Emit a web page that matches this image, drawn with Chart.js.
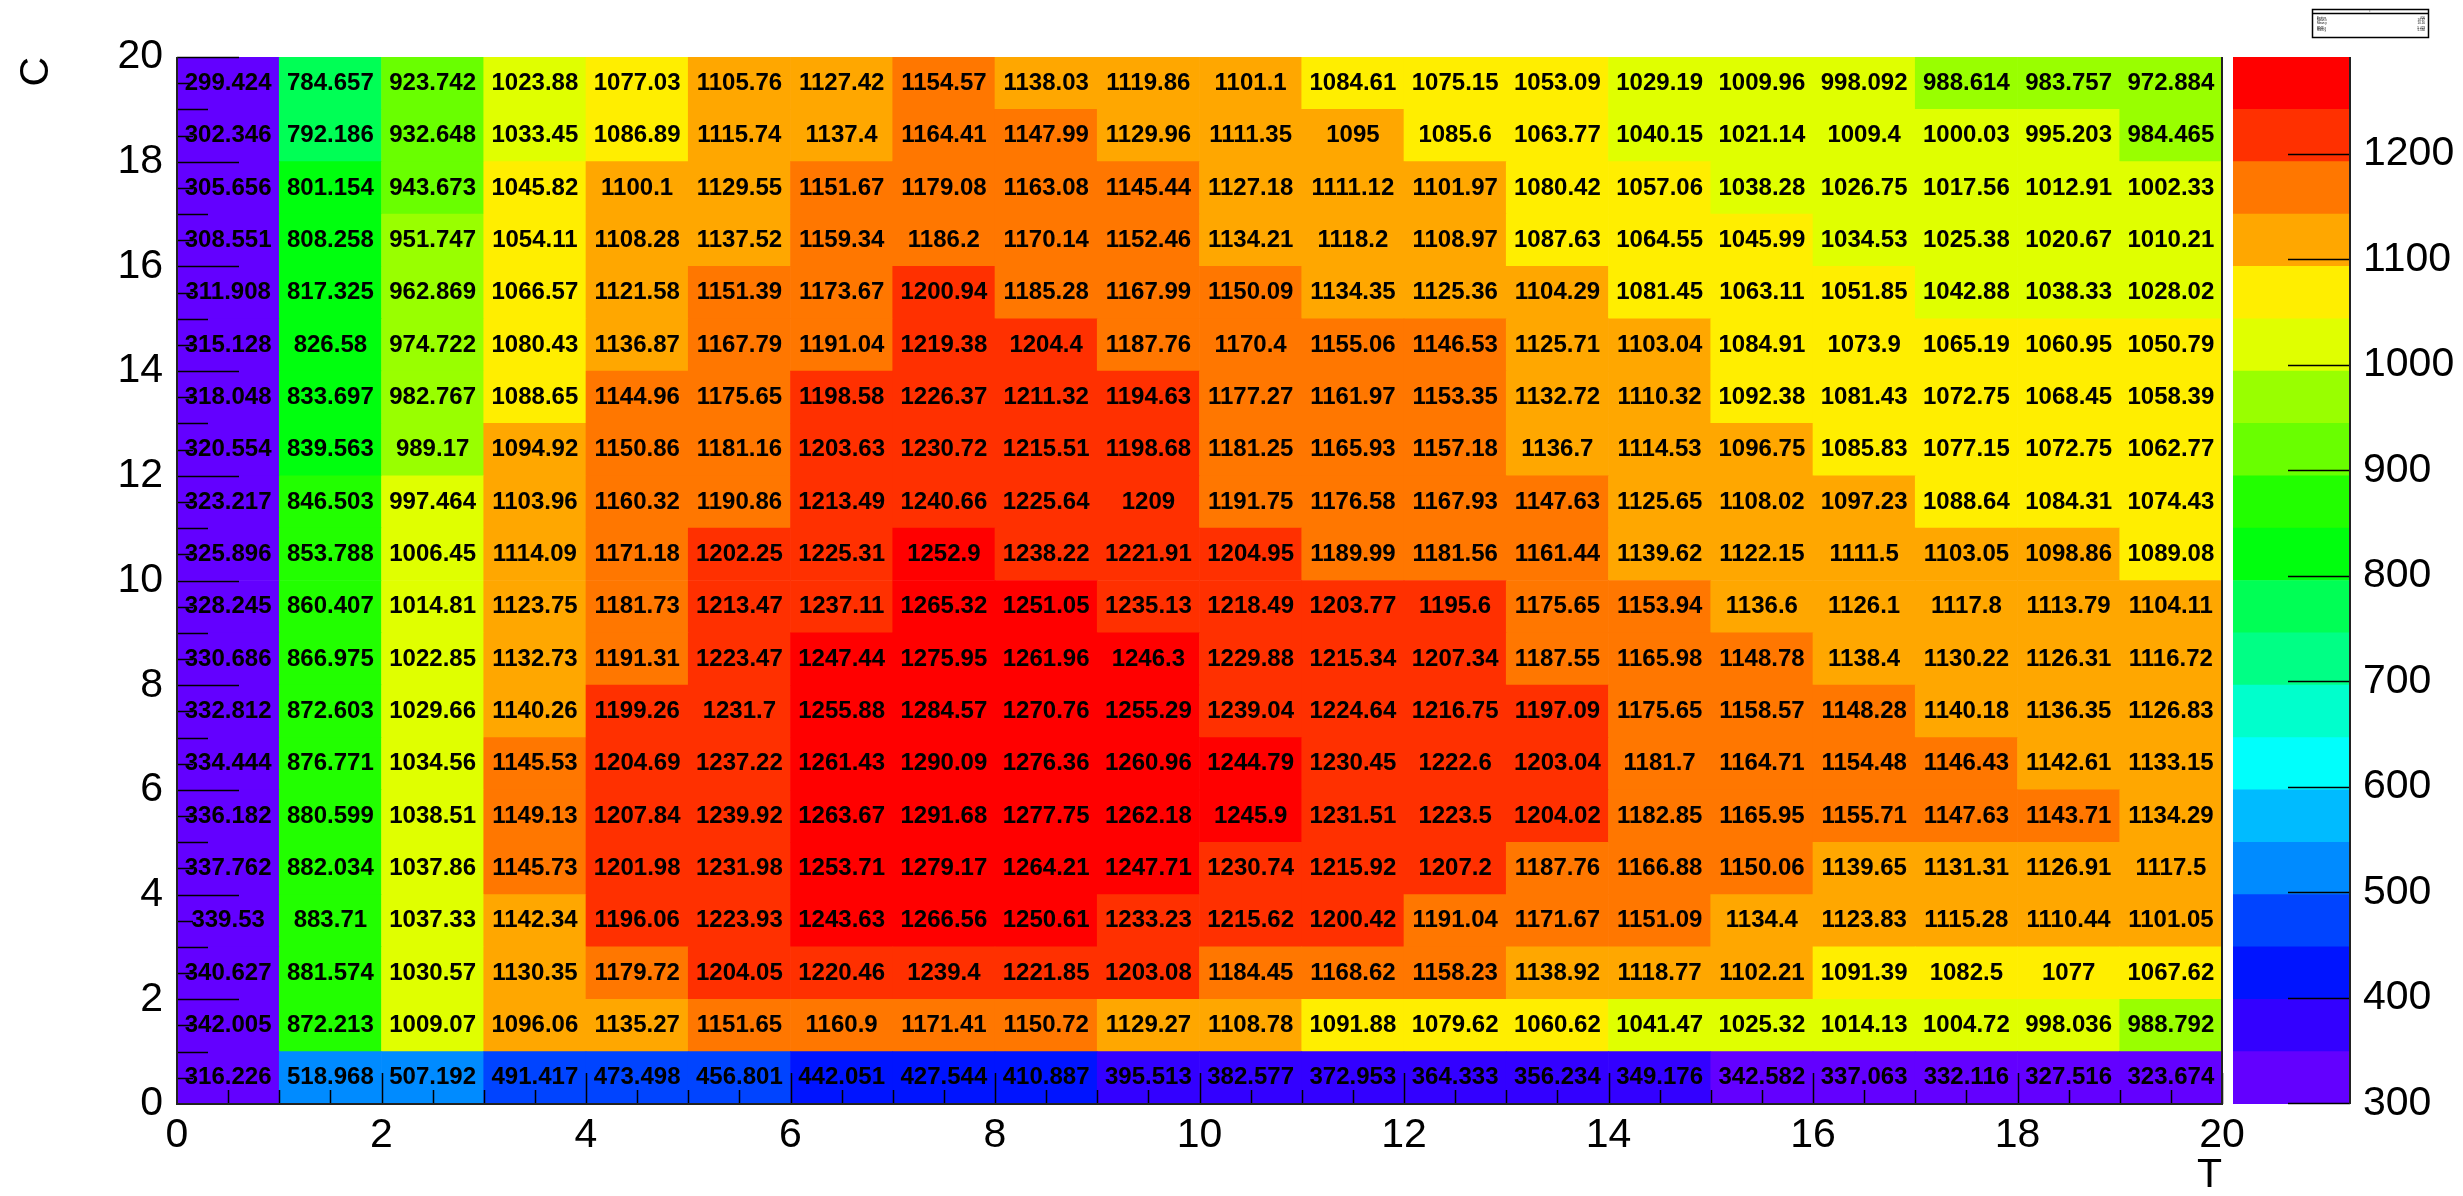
<!DOCTYPE html>
<html>
<head>
<meta charset="utf-8">
<title>C vs T</title>
<script src="https://cdn.jsdelivr.net/npm/chart.js@4.4.1/dist/chart.umd.min.js"></script>
<style>
  html, body { margin: 0; padding: 0; background: #fff; }
  #wrap { position: relative; width: 2463px; height: 1196px; overflow: hidden; }
  #main { position: absolute; left: 0; top: 0; width: 2463px; height: 1196px; }
  #palette { position: absolute; left: 2222px; top: 0; width: 241px; height: 1196px; }
</style>
</head>
<body>
<div id="wrap">
  <canvas id="main" width="2463" height="1196"></canvas>
  <canvas id="palette" width="241" height="1196"></canvas>
</div>
<script>
// bin centres along T (x) and C (y)
const tCentres = [0.5, 1.5, 2.5, 3.5, 4.5, 5.5, 6.5, 7.5, 8.5, 9.5, 10.5, 11.5, 12.5, 13.5, 14.5, 15.5, 16.5, 17.5, 18.5, 19.5];
const cCentres = [0.5, 1.5, 2.5, 3.5, 4.5, 5.5, 6.5, 7.5, 8.5, 9.5, 10.5, 11.5, 12.5, 13.5, 14.5, 15.5, 16.5, 17.5, 18.5, 19.5];

// axis tick labels
const tTicks = [0, 2, 4, 6, 8, 10, 12, 14, 16, 18, 20];
const cTicks = [0, 2, 4, 6, 8, 10, 12, 14, 16, 18, 20];
const zTicks = [300, 400, 500, 600, 700, 800, 900, 1000, 1100, 1200];

// bin contents, one array per C row (c0 = bottom row)
const c0  = [316.226, 518.968, 507.192, 491.417, 473.498, 456.801, 442.051, 427.544, 410.887, 395.513, 382.577, 372.953, 364.333, 356.234, 349.176, 342.582, 337.063, 332.116, 327.516, 323.674];
const c1  = [342.005, 872.213, 1009.07, 1096.06, 1135.27, 1151.65, 1160.9, 1171.41, 1150.72, 1129.27, 1108.78, 1091.88, 1079.62, 1060.62, 1041.47, 1025.32, 1014.13, 1004.72, 998.036, 988.792];
const c2  = [340.627, 881.574, 1030.57, 1130.35, 1179.72, 1204.05, 1220.46, 1239.4, 1221.85, 1203.08, 1184.45, 1168.62, 1158.23, 1138.92, 1118.77, 1102.21, 1091.39, 1082.5, 1077, 1067.62];
const c3  = [339.53, 883.71, 1037.33, 1142.34, 1196.06, 1223.93, 1243.63, 1266.56, 1250.61, 1233.23, 1215.62, 1200.42, 1191.04, 1171.67, 1151.09, 1134.4, 1123.83, 1115.28, 1110.44, 1101.05];
const c4  = [337.762, 882.034, 1037.86, 1145.73, 1201.98, 1231.98, 1253.71, 1279.17, 1264.21, 1247.71, 1230.74, 1215.92, 1207.2, 1187.76, 1166.88, 1150.06, 1139.65, 1131.31, 1126.91, 1117.5];
const c5  = [336.182, 880.599, 1038.51, 1149.13, 1207.84, 1239.92, 1263.67, 1291.68, 1277.75, 1262.18, 1245.9, 1231.51, 1223.5, 1204.02, 1182.85, 1165.95, 1155.71, 1147.63, 1143.71, 1134.29];
const c6  = [334.444, 876.771, 1034.56, 1145.53, 1204.69, 1237.22, 1261.43, 1290.09, 1276.36, 1260.96, 1244.79, 1230.45, 1222.6, 1203.04, 1181.7, 1164.71, 1154.48, 1146.43, 1142.61, 1133.15];
const c7  = [332.812, 872.603, 1029.66, 1140.26, 1199.26, 1231.7, 1255.88, 1284.57, 1270.76, 1255.29, 1239.04, 1224.64, 1216.75, 1197.09, 1175.65, 1158.57, 1148.28, 1140.18, 1136.35, 1126.83];
const c8  = [330.686, 866.975, 1022.85, 1132.73, 1191.31, 1223.47, 1247.44, 1275.95, 1261.96, 1246.3, 1229.88, 1215.34, 1207.34, 1187.55, 1165.98, 1148.78, 1138.4, 1130.22, 1126.31, 1116.72];
const c9  = [328.245, 860.407, 1014.81, 1123.75, 1181.73, 1213.47, 1237.11, 1265.32, 1251.05, 1235.13, 1218.49, 1203.77, 1195.6, 1175.65, 1153.94, 1136.6, 1126.1, 1117.8, 1113.79, 1104.11];
const c10 = [325.896, 853.788, 1006.45, 1114.09, 1171.18, 1202.25, 1225.31, 1252.9, 1238.22, 1221.91, 1204.95, 1189.99, 1181.56, 1161.44, 1139.62, 1122.15, 1111.5, 1103.05, 1098.86, 1089.08];
const c11 = [323.217, 846.503, 997.464, 1103.96, 1160.32, 1190.86, 1213.49, 1240.66, 1225.64, 1209, 1191.75, 1176.58, 1167.93, 1147.63, 1125.65, 1108.02, 1097.23, 1088.64, 1084.31, 1074.43];
const c12 = [320.554, 839.563, 989.17, 1094.92, 1150.86, 1181.16, 1203.63, 1230.72, 1215.51, 1198.68, 1181.25, 1165.93, 1157.18, 1136.7, 1114.53, 1096.75, 1085.83, 1077.15, 1072.75, 1062.77];
const c13 = [318.048, 833.697, 982.767, 1088.65, 1144.96, 1175.65, 1198.58, 1226.37, 1211.32, 1194.63, 1177.27, 1161.97, 1153.35, 1132.72, 1110.32, 1092.38, 1081.43, 1072.75, 1068.45, 1058.39];
const c14 = [315.128, 826.58, 974.722, 1080.43, 1136.87, 1167.79, 1191.04, 1219.38, 1204.4, 1187.76, 1170.4, 1155.06, 1146.53, 1125.71, 1103.04, 1084.91, 1073.9, 1065.19, 1060.95, 1050.79];
const c15 = [311.908, 817.325, 962.869, 1066.57, 1121.58, 1151.39, 1173.67, 1200.94, 1185.28, 1167.99, 1150.09, 1134.35, 1125.36, 1104.29, 1081.45, 1063.11, 1051.85, 1042.88, 1038.33, 1028.02];
const c16 = [308.551, 808.258, 951.747, 1054.11, 1108.28, 1137.52, 1159.34, 1186.2, 1170.14, 1152.46, 1134.21, 1118.2, 1108.97, 1087.63, 1064.55, 1045.99, 1034.53, 1025.38, 1020.67, 1010.21];
const c17 = [305.656, 801.154, 943.673, 1045.82, 1100.1, 1129.55, 1151.67, 1179.08, 1163.08, 1145.44, 1127.18, 1111.12, 1101.97, 1080.42, 1057.06, 1038.28, 1026.75, 1017.56, 1012.91, 1002.33];
const c18 = [302.346, 792.186, 932.648, 1033.45, 1086.89, 1115.74, 1137.4, 1164.41, 1147.99, 1129.96, 1111.35, 1095, 1085.6, 1063.77, 1040.15, 1021.14, 1009.4, 1000.03, 995.203, 984.465];
const c19 = [299.424, 784.657, 923.742, 1023.88, 1077.03, 1105.76, 1127.42, 1154.57, 1138.03, 1119.86, 1101.1, 1084.61, 1075.15, 1053.09, 1029.19, 1009.96, 998.092, 988.614, 983.757, 972.884];

const rows = [c0, c1, c2, c3, c4, c5, c6, c7, c8, c9, c10, c11, c12, c13, c14, c15, c16, c17, c18, c19];

Chart.defaults.font.family = '"Liberation Sans", Arial, sans-serif';
Chart.defaults.color = '#000';

// ROOT style: 20 contour levels between min and max, "pretty" violet->red palette
const nLevels = 20;
const allValues = rows.flat();
const zMin = Math.min(...allValues);
const zMax = Math.max(...allValues);

function band(v) {
  return Math.min(nLevels - 1, Math.floor((v - zMin) / (zMax - zMin) * nLevels));
}
function levelColor(k) {
  const idx = Math.floor((k + 0.99) * 50 / nLevels);
  const hue = 280 - (idx + 1) * 5.6;
  return 'hsl(' + hue.toFixed(1) + ', 100%, 50%)';
}

const labelFont = { family: '"Liberation Sans", Arial, sans-serif', size: 41 };
const plainLabel = (v) => String(v);

// text in each cell + inward axis ticks + frame
const cellText = {
  id: 'cellText',
  afterDatasetsDraw(chart) {
    const ctx = chart.ctx;
    ctx.save();
    ctx.font = 'bold 24px "Liberation Sans", Arial, sans-serif';
    ctx.fillStyle = '#000';
    ctx.textAlign = 'center';
    ctx.textBaseline = 'middle';
    rows.forEach((row, j) => {
      chart.getDatasetMeta(j).data.forEach((bar, i) => {
        ctx.fillText(String(row[i]), bar.x, (bar.y + bar.base) / 2);
      });
    });
    ctx.restore();
  },
  afterDraw(chart) {
    const ctx = chart.ctx;
    const a = chart.chartArea;
    const xs = chart.scales.x;
    const ys = chart.scales.y;
    ctx.save();
    ctx.strokeStyle = '#000';
    ctx.lineWidth = 1.5;
    ctx.beginPath();
    for (let t = 0.5; t <= 20; t += 0.5) {
      const px = Math.round(xs.getPixelForValue(t)) + 0.5;
      const len = t % 2 === 0 ? 31 : 14;
      ctx.moveTo(px, a.bottom);
      ctx.lineTo(px, a.bottom - len);
    }
    for (let c = 0.5; c <= 20; c += 0.5) {
      const py = Math.round(ys.getPixelForValue(c)) + 0.5;
      const len = c % 2 === 0 ? 62 : (c % 1 === 0 ? 31 : 16);
      ctx.moveTo(a.left, py);
      ctx.lineTo(a.left + len, py);
    }
    ctx.stroke();
    ctx.strokeStyle = '#222';
    ctx.lineWidth = 2;
    ctx.beginPath();
    ctx.moveTo(a.left, a.top);
    ctx.lineTo(a.left, a.bottom);
    ctx.lineTo(a.right, a.bottom);
    ctx.lineTo(a.right, a.top);
    ctx.stroke();
    ctx.restore();
  }
};

const cellSets = rows.map((row, j) => ({
  label: 'C ' + cCentres[j],
  data: row.map((v, i) => ({ x: tCentres[i], y: [cCentres[j] - 0.5, cCentres[j] + 0.5] })),
  backgroundColor: row.map(v => levelColor(band(v))),
  borderWidth: 0,
  grouped: false,
  barPercentage: 1,
  categoryPercentage: 1
}));

new Chart(document.getElementById('main'), {
  type: 'bar',
  data: { datasets: cellSets },
  options: {
    responsive: false,
    animation: false,
    devicePixelRatio: 1,
    layout: { padding: { left: 0, top: 57, right: 241, bottom: 0 } },
    plugins: { legend: { display: false }, tooltip: { enabled: false } },
    scales: {
      x: {
        type: 'linear',
        min: 0,
        max: 20,
        offset: false,
        grid: { display: false, drawTicks: false },
        border: { display: false },
        afterBuildTicks: (s) => { s.ticks = tTicks.map(v => ({ value: v })); },
        afterFit: (s) => { s.height = 92; },
        ticks: { padding: 7, font: labelFont, maxRotation: 0, autoSkip: false, callback: plainLabel },
        title: { display: true, text: 'T', align: 'end', font: { ...labelFont, lineHeight: 1.0 }, padding: { top: 0, bottom: 0 } }
      },
      y: {
        type: 'linear',
        min: 0,
        max: 20,
        grid: { display: false, drawTicks: false },
        border: { display: false },
        afterBuildTicks: (s) => { s.ticks = cTicks.map(v => ({ value: v })); },
        afterFit: (s) => { s.width = 177; },
        ticks: { padding: 14, font: labelFont, autoSkip: false, callback: plainLabel },
        title: { display: true, text: 'C', align: 'end', font: { ...labelFont, lineHeight: 1.2 }, padding: { top: 12, bottom: 0 } }
      }
    }
  },
  plugins: [cellText]
});

// colour palette axis on the right + stats box
let sw = 0, sx = 0, sy = 0, sxx = 0, syy = 0;
rows.forEach((row, j) => row.forEach((v, i) => {
  sw += v; sx += v * tCentres[i]; sy += v * cCentres[j];
  sxx += v * tCentres[i] * tCentres[i]; syy += v * cCentres[j] * cCentres[j];
}));
const meanX = sx / sw, meanY = sy / sw;
const statLines = [
  ['Entries', String(allValues.length)],
  ['Mean x', meanX.toPrecision(4)],
  ['Mean y', meanY.toPrecision(4)],
  ['RMS x', Math.sqrt(sxx / sw - meanX * meanX).toPrecision(4)],
  ['RMS y', Math.sqrt(syy / sw - meanY * meanY).toPrecision(4)]
];

const paletteDecor = {
  id: 'paletteDecor',
  afterDraw(chart) {
    const ctx = chart.ctx;
    const a = chart.chartArea;
    const ys = chart.scales.y;
    ctx.save();
    ctx.strokeStyle = '#000';
    ctx.lineWidth = 1.5;
    ctx.beginPath();
    zTicks.forEach(v => {
      const py = Math.round(ys.getPixelForValue(v)) + 0.5;
      ctx.moveTo(a.right, py);
      ctx.lineTo(a.right - 62, py);
    });
    ctx.stroke();
    ctx.strokeStyle = '#222';
    ctx.lineWidth = 2;
    ctx.beginPath();
    ctx.moveTo(a.right, a.top);
    ctx.lineTo(a.right, a.bottom);
    ctx.stroke();

    // tiny stats box
    ctx.lineWidth = 1.5;
    ctx.strokeStyle = '#000';
    ctx.strokeRect(90.5, 9.5, 116, 28);
    ctx.beginPath();
    ctx.moveTo(90.5, 13.5);
    ctx.lineTo(206.5, 13.5);
    ctx.stroke();
    ctx.fillStyle = '#000';
    ctx.font = '3px "Liberation Sans", Arial, sans-serif';
    ctx.textBaseline = 'middle';
    ctx.textAlign = 'center';
    ctx.fillText('T', 148, 11.5);
    const ys2 = [18, 20.5, 23, 28, 30.5];
    statLines.forEach((ln, k) => {
      ctx.textAlign = 'left';
      ctx.fillText(ln[0], 95, ys2[k]);
      ctx.textAlign = 'right';
      ctx.fillText(ln[1], 203, ys2[k]);
    });
    ctx.restore();
  }
};

const bandSets = [];
for (let k = 0; k < nLevels; k++) {
  const lo = zMin + k * (zMax - zMin) / nLevels;
  const hi = zMin + (k + 1) * (zMax - zMin) / nLevels;
  bandSets.push({
    label: 'level ' + k,
    data: [[lo, hi]],
    backgroundColor: levelColor(k),
    borderWidth: 0,
    grouped: false,
    barPercentage: 1,
    categoryPercentage: 1
  });
}

new Chart(document.getElementById('palette'), {
  type: 'bar',
  data: { labels: [''], datasets: bandSets },
  options: {
    responsive: false,
    animation: false,
    devicePixelRatio: 1,
    layout: { padding: { left: 11, top: 57, right: 0, bottom: 92 } },
    plugins: { legend: { display: false }, tooltip: { enabled: false } },
    scales: {
      x: { type: 'category', display: false },
      y: {
        type: 'linear',
        position: 'right',
        min: zMin,
        max: zMax,
        grid: { display: false, drawTicks: false },
        border: { display: false },
        afterBuildTicks: (s) => { s.ticks = zTicks.map(v => ({ value: v })); },
        afterFit: (s) => { s.width = 113; },
        ticks: { padding: 13, font: labelFont, autoSkip: false, callback: plainLabel }
      }
    }
  },
  plugins: [paletteDecor]
});
</script>
</body>
</html>
